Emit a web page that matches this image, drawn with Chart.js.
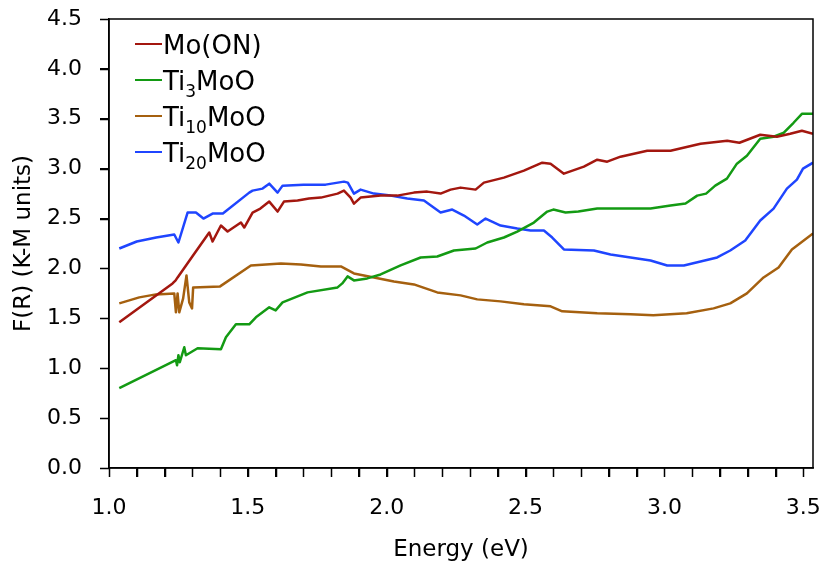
<!DOCTYPE html>
<html>
<head>
<meta charset="utf-8">
<script src="https://cdn.jsdelivr.net/npm/chart.js@4.4.1/dist/chart.umd.min.js"></script>
<style>
  html, body { margin: 0; padding: 0; background: #fff; }
  #wrap { width: 824px; height: 567px; }
</style>
</head>
<body>
<div id="wrap"><canvas id="km-chart"></canvas></div>
<script>
// Kubelka-Munk spectra, values
const moEnergy = [1.037, 1.229, 1.24, 1.247, 1.30, 1.361, 1.373, 1.403, 1.427, 1.475, 1.487, 1.517, 1.545, 1.577, 1.607, 1.63, 1.679, 1.72, 1.763, 1.823, 1.846, 1.87, 1.882, 1.906, 1.978, 2.038, 2.098, 2.146, 2.194, 2.23, 2.266, 2.32, 2.35, 2.422, 2.494, 2.56, 2.59, 2.638, 2.71, 2.758, 2.794, 2.842, 2.938, 3.022, 3.13, 3.226, 3.27, 3.345, 3.405, 3.453, 3.495, 3.535];
const moValues = [1.46, 1.85, 1.88, 1.91, 2.12, 2.36, 2.27, 2.43, 2.37, 2.46, 2.41, 2.56, 2.60, 2.67, 2.57, 2.67, 2.68, 2.70, 2.71, 2.75, 2.78, 2.71, 2.65, 2.71, 2.73, 2.73, 2.76, 2.77, 2.75, 2.79, 2.81, 2.79, 2.86, 2.91, 2.98, 3.06, 3.05, 2.95, 3.02, 3.09, 3.07, 3.12, 3.18, 3.18, 3.25, 3.28, 3.26, 3.34, 3.32, 3.35, 3.38, 3.35];

const ti3Energy = [1.037, 1.241, 1.245, 1.25, 1.255, 1.271, 1.277, 1.319, 1.403, 1.421, 1.457, 1.505, 1.529, 1.577, 1.60, 1.625, 1.715, 1.823, 1.84, 1.859, 1.882, 1.93, 1.978, 2.05, 2.122, 2.182, 2.242, 2.32, 2.362, 2.422, 2.47, 2.53, 2.578, 2.60, 2.644, 2.69, 2.758, 2.95, 3.022, 3.076, 3.118, 3.15, 3.183, 3.225, 3.261, 3.297, 3.345, 3.393, 3.43, 3.465, 3.495, 3.535];
const ti3Values = [0.80, 1.08, 1.03, 1.13, 1.06, 1.21, 1.13, 1.20, 1.19, 1.31, 1.44, 1.44, 1.51, 1.61, 1.58, 1.66, 1.76, 1.81, 1.85, 1.92, 1.88, 1.90, 1.94, 2.03, 2.11, 2.12, 2.18, 2.20, 2.26, 2.31, 2.37, 2.46, 2.57, 2.59, 2.56, 2.57, 2.60, 2.60, 2.63, 2.65, 2.73, 2.75, 2.83, 2.90, 3.05, 3.13, 3.30, 3.32, 3.36, 3.46, 3.55, 3.55];

const ti10Energy = [1.037, 1.109, 1.169, 1.235, 1.241, 1.247, 1.253, 1.267, 1.279, 1.289, 1.299, 1.303, 1.40, 1.511, 1.619, 1.691, 1.763, 1.835, 1.882, 1.954, 2.026, 2.098, 2.182, 2.266, 2.326, 2.41, 2.494, 2.59, 2.632, 2.758, 2.878, 2.96, 3.08, 3.177, 3.237, 3.297, 3.357, 3.411, 3.459, 3.535];
const ti10Values = [1.65, 1.71, 1.74, 1.75, 1.56, 1.75, 1.56, 1.70, 1.93, 1.66, 1.60, 1.81, 1.82, 2.03, 2.05, 2.04, 2.02, 2.02, 1.95, 1.91, 1.87, 1.84, 1.76, 1.73, 1.69, 1.67, 1.64, 1.62, 1.57, 1.55, 1.54, 1.53, 1.55, 1.60, 1.65, 1.75, 1.91, 2.01, 2.19, 2.35];

const ti20Energy = [1.037, 1.10, 1.17, 1.235, 1.25, 1.283, 1.313, 1.34, 1.373, 1.41, 1.505, 1.517, 1.553, 1.577, 1.607, 1.625, 1.70, 1.78, 1.846, 1.86, 1.882, 1.906, 1.954, 2.014, 2.074, 2.134, 2.194, 2.236, 2.278, 2.326, 2.356, 2.41, 2.47, 2.518, 2.566, 2.596, 2.638, 2.746, 2.806, 2.878, 2.95, 3.01, 3.07, 3.13, 3.19, 3.237, 3.291, 3.345, 3.393, 3.441, 3.477, 3.499, 3.535];
const ti20Values = [2.20, 2.27, 2.31, 2.34, 2.26, 2.56, 2.56, 2.50, 2.55, 2.55, 2.76, 2.78, 2.80, 2.85, 2.76, 2.83, 2.84, 2.84, 2.87, 2.86, 2.75, 2.79, 2.75, 2.73, 2.70, 2.68, 2.56, 2.59, 2.53, 2.44, 2.50, 2.43, 2.40, 2.38, 2.38, 2.31, 2.19, 2.18, 2.14, 2.11, 2.08, 2.03, 2.03, 2.07, 2.11, 2.18, 2.28, 2.48, 2.60, 2.80, 2.89, 3.00, 3.06];

const seriesNames = ['Mo(ON)', 'Ti3MoO', 'Ti10MoO', 'Ti20MoO'];
// legend text pieces: [text, isSubscript]
const legendParts = [
    [['Mo(ON)', false]],
    [['Ti', false], ['3', true], ['MoO', false]],
    [['Ti', false], ['10', true], ['MoO', false]],
    [['Ti', false], ['20', true], ['MoO', false]]
];
const seriesColors = ['#A3170F', '#139A13', '#A5600F', '#1F45FF'];

const xTitle = 'Energy (eV)';
const yTitle = 'F(R) (K-M units)';

function toPoints(xs, ys) {
    return xs.map((x, i) => ({ x: x, y: ys[i] }));
}

const TICK_LEN = 9;

// box around the plot, outward tick marks, legend with subscripts
const framePlugin = {
    id: 'frame',
    afterDraw(chart) {
        const { ctx, chartArea } = chart;
        const xs = chart.scales.x, ys = chart.scales.y;
        ctx.save();
        ctx.strokeStyle = '#000';
        ctx.lineWidth = 1.5;
        ctx.strokeRect(chartArea.left, chartArea.top, chartArea.right - chartArea.left, chartArea.bottom - chartArea.top);

        ctx.beginPath();
        xs.ticks.forEach(t => {
            const px = Math.round(xs.getPixelForValue(t.value)) + 0.5;
            ctx.moveTo(px, chartArea.bottom);
            ctx.lineTo(px, chartArea.bottom + TICK_LEN);
        });
        ys.ticks.forEach(t => {
            const py = Math.round(ys.getPixelForValue(t.value)) + 0.5;
            ctx.moveTo(chartArea.left, py);
            ctx.lineTo(chartArea.left - TICK_LEN, py);
        });
        ctx.stroke();

        const lineX1 = 135, lineX2 = 162, firstY = 44, gap = 36;
        legendParts.forEach((parts, i) => {
            const y = firstY + i * gap;
            ctx.strokeStyle = seriesColors[i];
            ctx.lineWidth = 2;
            ctx.beginPath();
            ctx.moveTo(lineX1, y);
            ctx.lineTo(lineX2, y);
            ctx.stroke();

            let x = lineX2 + 1;
            ctx.fillStyle = '#000';
            ctx.textBaseline = 'alphabetic';
            parts.forEach(([text, sub]) => {
                ctx.font = sub ? '17px "DejaVu Sans"' : '26px "DejaVu Sans"';
                ctx.fillText(text, x, y + (sub ? 17 : 10));
                x += ctx.measureText(text).width;
            });
        });
        ctx.restore();
    }
};

const datasets = [
    toPoints(moEnergy, moValues),
    toPoints(ti3Energy, ti3Values),
    toPoints(ti10Energy, ti10Values),
    toPoints(ti20Energy, ti20Values)
].map((pts, i) => ({
    label: seriesNames[i],
    data: pts,
    borderColor: seriesColors[i],
    borderWidth: 2.5,
    pointRadius: 0,
    tension: 0,
    fill: false,
    borderJoinStyle: 'round'
}));

new Chart(document.getElementById('km-chart'), {
    type: 'line',
    data: { datasets: datasets },
    options: {
        responsive: true,
        maintainAspectRatio: false,
        animation: false,
        layout: { padding: { top: 19, right: 11, left: 0, bottom: 0 } },
        plugins: {
            legend: { display: false },
            tooltip: { enabled: false }
        },
        scales: {
            x: {
                type: 'linear',
                min: 1.0,
                max: 3.535,
                afterFit(scale) {
                    scale.height = 99;
                    scale.paddingLeft = 0;
                    scale.paddingRight = 0;
                },
                ticks: {
                    stepSize: 0.1,
                    autoSkip: false,
                    maxRotation: 0,
                    includeBounds: false,
                    padding: 18,
                    color: '#000',
                    font: { family: 'DejaVu Sans', size: 22 },
                    callback: function(value) {
                        const r = Math.round(value * 10);
                        return r % 5 === 0 ? (r / 10).toFixed(1) : '';
                    }
                },
                grid: { drawOnChartArea: false, drawTicks: true, tickLength: TICK_LEN, tickColor: '#000' },
                border: { display: true, color: '#000', width: 1.5 },
                title: {
                    display: true,
                    text: xTitle,
                    color: '#000',
                    font: { family: 'DejaVu Sans', size: 23 },
                    padding: { top: 0, bottom: 3 }
                }
            },
            y: {
                min: 0,
                max: 4.5,
                afterFit(scale) {
                    scale.width = 109;
                    scale.paddingTop = 0;
                    scale.paddingBottom = 0;
                },
                ticks: {
                    stepSize: 0.5,
                    padding: 18,
                    color: '#000',
                    font: { family: 'DejaVu Sans', size: 22 },
                    callback: value => value.toFixed(1)
                },
                grid: { drawOnChartArea: false, drawTicks: true, tickLength: TICK_LEN, tickColor: '#000' },
                border: { display: true, color: '#000', width: 1.5 },
                title: {
                    display: true,
                    text: yTitle,
                    color: '#000',
                    font: { family: 'DejaVu Sans', size: 23 },
                    padding: { top: 10, bottom: 0 }
                }
            }
        }
    },
    plugins: [framePlugin]
});
</script>
</body>
</html>
